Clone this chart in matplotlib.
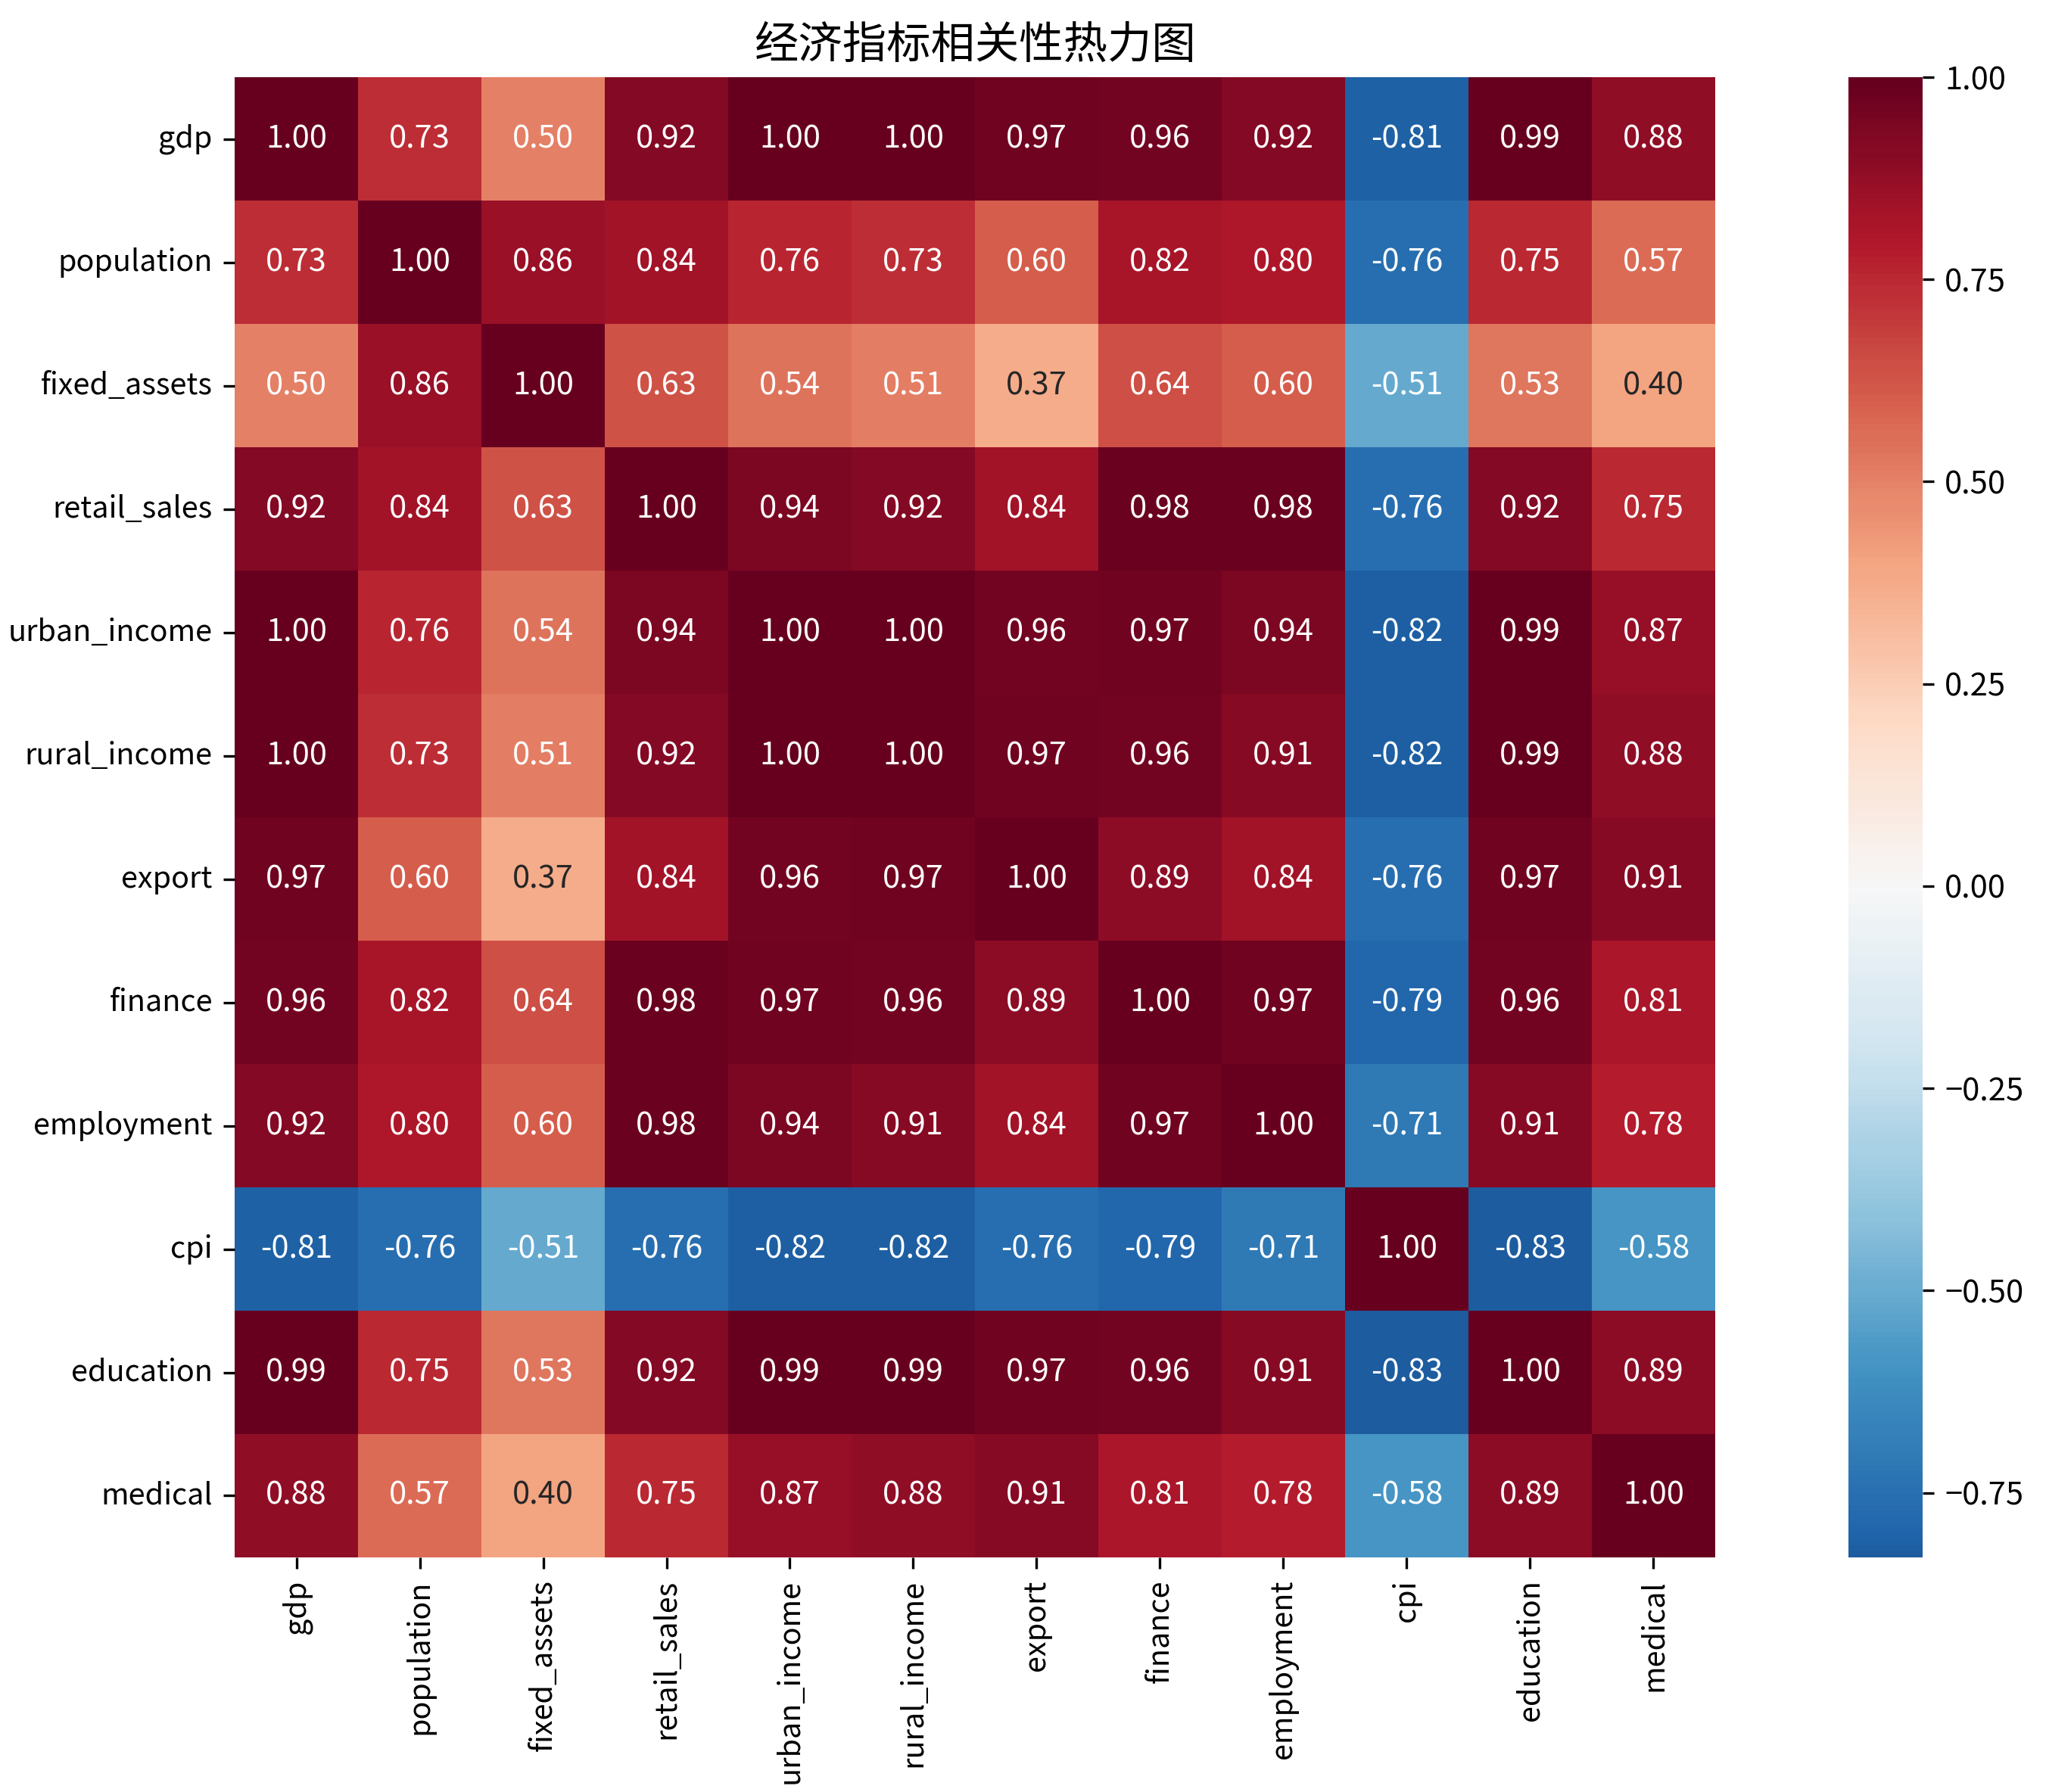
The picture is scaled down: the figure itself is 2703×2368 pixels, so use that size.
import numpy as np
import pandas as pd
import matplotlib
matplotlib.use("Agg")
import matplotlib.pyplot as plt
import seaborn as sns

plt.rcParams['font.family'] = ['Noto Sans CJK SC', 'DejaVu Sans']

labels = ['gdp', 'population', 'fixed_assets', 'retail_sales', 'urban_income',
          'rural_income', 'export', 'finance', 'employment', 'cpi',
          'education', 'medical']

gdp          = [1.00, 0.73, 0.50, 0.92, 1.00, 1.00, 0.97, 0.96, 0.92, -0.81, 0.99, 0.88]
population   = [0.73, 1.00, 0.86, 0.84, 0.76, 0.73, 0.60, 0.82, 0.80, -0.76, 0.75, 0.57]
fixed_assets = [0.50, 0.86, 1.00, 0.63, 0.54, 0.51, 0.37, 0.64, 0.60, -0.51, 0.53, 0.40]
retail_sales = [0.92, 0.84, 0.63, 1.00, 0.94, 0.92, 0.84, 0.98, 0.98, -0.76, 0.92, 0.75]
urban_income = [1.00, 0.76, 0.54, 0.94, 1.00, 1.00, 0.96, 0.97, 0.94, -0.82, 0.99, 0.87]
rural_income = [1.00, 0.73, 0.51, 0.92, 1.00, 1.00, 0.97, 0.96, 0.91, -0.82, 0.99, 0.88]
export       = [0.97, 0.60, 0.37, 0.84, 0.96, 0.97, 1.00, 0.89, 0.84, -0.76, 0.97, 0.91]
finance      = [0.96, 0.82, 0.64, 0.98, 0.97, 0.96, 0.89, 1.00, 0.97, -0.79, 0.96, 0.81]
employment   = [0.92, 0.80, 0.60, 0.98, 0.94, 0.91, 0.84, 0.97, 1.00, -0.71, 0.91, 0.78]
cpi          = [-0.81, -0.76, -0.51, -0.76, -0.82, -0.82, -0.76, -0.79, -0.71, 1.00, -0.83, -0.58]
education    = [0.99, 0.75, 0.53, 0.92, 0.99, 0.99, 0.97, 0.96, 0.91, -0.83, 1.00, 0.89]
medical      = [0.88, 0.57, 0.40, 0.75, 0.87, 0.88, 0.91, 0.81, 0.78, -0.58, 0.89, 1.00]

rows = [gdp, population, fixed_assets, retail_sales, urban_income, rural_income,
        export, finance, employment, cpi, education, medical]
corr = pd.DataFrame(np.array(rows), index=labels, columns=labels)

fig = plt.figure(figsize=(2703 / 300, 2368 / 300), dpi=300)
ax = fig.add_axes([0.1147, 0.1309, 0.7236, 0.826])
cax = fig.add_axes([0.9034, 0.1309, 0.0363, 0.826])

sns.heatmap(corr, annot=True, fmt='.2f', cmap='RdBu_r', center=0,
            square=True, ax=ax, cbar_ax=cax, annot_kws={'fontsize': 10})

ax.set_title('经济指标相关性热力图', fontsize=14)
ax.set_xticklabels(labels, rotation=90, fontsize=9.5)
ax.set_yticklabels(labels, rotation=0, fontsize=9.5)
cax.tick_params(labelsize=10)

fig.savefig('out.png', dpi=300)
